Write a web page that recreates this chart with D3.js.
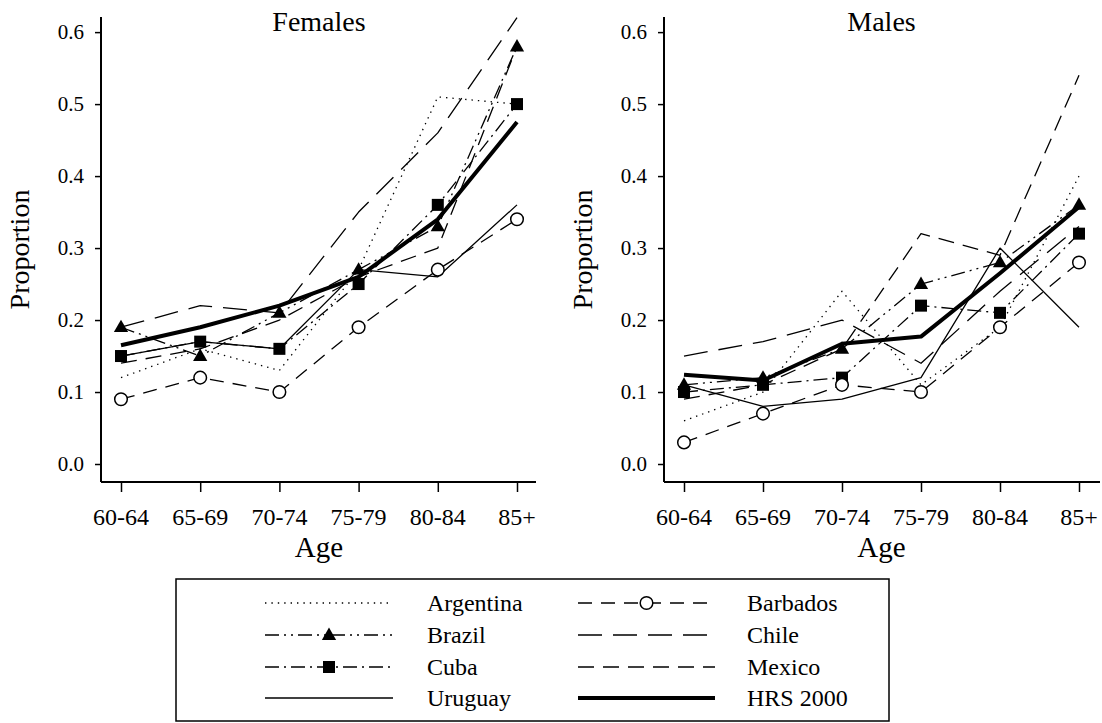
<!DOCTYPE html>
<html>
<head>
<meta charset="utf-8">
<script src="https://cdn.jsdelivr.net/npm/d3@7"></script>
</head>
<body style="margin:0">
<svg id="chart" width="1102" height="723"></svg>
<script>
// Age groups and axis ticks
const ageGroups = ["60-64", "65-69", "70-74", "75-79", "80-84", "85+"];
const yTicks = [0, 0.1, 0.2, 0.3, 0.4, 0.5, 0.6];
const countries = ["Argentina", "Brazil", "Cuba", "Uruguay", "Barbados", "Chile", "Mexico", "HRS 2000"];

// Proportions by age group, females
const argentinaF = [0.12, 0.16, 0.13, 0.27, 0.51, 0.50];
const brazilF    = [0.19, 0.15, 0.21, 0.27, 0.33, 0.58];
const cubaF      = [0.15, 0.17, 0.16, 0.25, 0.36, 0.50];
const uruguayF   = [0.15, 0.17, 0.16, 0.27, 0.26, 0.36];
const barbadosF  = [0.09, 0.12, 0.10, 0.19, 0.27, 0.34];
const chileF     = [0.19, 0.22, 0.21, 0.35, 0.46, 0.62];
const mexicoF    = [0.14, 0.16, 0.20, 0.26, 0.30, 0.58];
const hrsF       = [0.165, 0.19, 0.22, 0.26, 0.34, 0.475];

// Proportions by age group, males
const argentinaM = [0.06, 0.10, 0.24, 0.11, 0.19, 0.40];
const brazilM    = [0.11, 0.12, 0.16, 0.25, 0.28, 0.36];
const cubaM      = [0.10, 0.11, 0.12, 0.22, 0.21, 0.32];
const uruguayM   = [0.11, 0.08, 0.09, 0.12, 0.30, 0.19];
const barbadosM  = [0.03, 0.07, 0.11, 0.10, 0.19, 0.28];
const chileM     = [0.15, 0.17, 0.20, 0.14, 0.24, 0.33];
const mexicoM    = [0.09, 0.11, 0.16, 0.32, 0.29, 0.54];
const hrsM       = [0.124, 0.116, 0.167, 0.177, 0.265, 0.357];

// Line style per country
const styles = {
  "Argentina": { dash: "1.4,5",            width: 1.3, marker: null },
  "Brazil":    { dash: "14,5,2,5,2,5",     width: 1.3, marker: "triangle" },
  "Cuba":      { dash: "14,5,2,5",         width: 1.3, marker: "square" },
  "Uruguay":   { dash: null,               width: 1.3, marker: null },
  "Barbados":  { dash: "14,9",             width: 1.3, marker: "circle" },
  "Chile":     { dash: "24,11",            width: 1.3, marker: null },
  "Mexico":    { dash: "16,9",             width: 1.3, marker: null },
  "HRS 2000":  { dash: null,               width: 4,   marker: null }
};

const femalesSeries = [argentinaF, brazilF, cubaF, uruguayF, barbadosF, chileF, mexicoF, hrsF];
const malesSeries   = [argentinaM, brazilM, cubaM, uruguayM, barbadosM, chileM, mexicoM, hrsM];

const FONT = "Liberation Serif";
const svg = d3.select("#chart");

const panels = [
  { title: "Females", series: femalesSeries, axisLeft: 101, axisRight: 536, first: 121, last: 517 },
  { title: "Males",   series: malesSeries,   axisLeft: 664, axisRight: 1100, first: 684, last: 1079 }
];

const plotTop = 17, plotBottom = 482;
const y = d3.scaleLinear().domain([-0.025, 0.621]).range([plotBottom, plotTop]);

function drawMarker(g, type, cx, cy) {
  if (type === "triangle") {
    const s = 7.5;
    g.append("path")
      .attr("d", `M${cx},${cy - s}L${cx + s * 0.95},${cy + s * 0.65}L${cx - s * 0.95},${cy + s * 0.65}Z`)
      .attr("fill", "#000");
  } else if (type === "square") {
    g.append("rect")
      .attr("x", cx - 6).attr("y", cy - 6).attr("width", 12).attr("height", 12)
      .attr("fill", "#000");
  } else if (type === "circle") {
    g.append("circle")
      .attr("cx", cx).attr("cy", cy).attr("r", 6.3)
      .attr("fill", "#fff").attr("stroke", "#000").attr("stroke-width", 1.5);
  }
}

// All text goes straight onto the root svg in the serif face
function label(x, y, txt, size, anchor) {
  return svg.append("text").attr("x", x).attr("y", y)
    .style("font-family", FONT)
    .style("font-size", size + "px")
    .attr("text-anchor", anchor || "start")
    .text(txt);
}

panels.forEach(p => {
  const x = d3.scalePoint().domain(ageGroups).range([p.first, p.last]);
  const g = svg.append("g");

  // y axis: tick marks from the scale; labels placed from the same scale
  const yAxis = g.append("g")
    .attr("transform", `translate(${p.axisLeft},0)`)
    .call(d3.axisLeft(y).tickValues(yTicks).tickFormat("").tickSize(6).tickSizeOuter(0));
  yAxis.select(".domain").remove();
  yAxis.append("line").attr("x1", 0).attr("x2", 0).attr("y1", plotTop).attr("y2", plotBottom)
    .attr("stroke", "#000").attr("stroke-width", 2);
  yAxis.selectAll(".tick line").attr("stroke-width", 1.5);
  yTicks.forEach(t => label(p.axisLeft - 17, y(t) + 7, d3.format(".1f")(t), 21, "end"));

  // x axis
  const xAxis = g.append("g")
    .attr("transform", `translate(0,${plotBottom})`)
    .call(d3.axisBottom(x).tickFormat("").tickSize(10).tickSizeOuter(0));
  xAxis.select(".domain").remove();
  xAxis.append("line").attr("x1", p.axisLeft).attr("x2", p.axisRight).attr("y1", 0).attr("y2", 0)
    .attr("stroke", "#000").attr("stroke-width", 2);
  xAxis.selectAll(".tick line").attr("stroke-width", 1.5);
  ageGroups.forEach(a => label(x(a), 525, a, 24, "middle"));

  const cx = (p.first + p.last) / 2;
  label(cx, 31, p.title, 28, "middle");
  label(cx, 557, "Age", 29, "middle");
  label(0, 0, "Proportion", 28, "middle")
    .attr("transform", `translate(${p.axisLeft - 72},${(plotTop + plotBottom) / 2}) rotate(-90)`);

  const line = d3.line().x((d, i) => x(ageGroups[i])).y(d => y(d));
  const lines = g.append("g");
  const marks = g.append("g");
  countries.forEach((c, k) => {
    const st = styles[c];
    const vals = p.series[k];
    lines.append("path")
      .datum(vals)
      .attr("d", line)
      .attr("fill", "none")
      .attr("stroke", "#000")
      .attr("stroke-width", st.width)
      .attr("stroke-linejoin", "round")
      .attr("stroke-dasharray", st.dash);
    if (st.marker) {
      vals.forEach((v, i) => drawMarker(marks, st.marker, x(ageGroups[i]), y(v)));
    }
  });
});

// Legend
const legend = svg.append("g");
legend.append("rect").attr("x", 176).attr("y", 579).attr("width", 713).attr("height", 142)
  .attr("fill", "#fff").attr("stroke", "#000").attr("stroke-width", 1.5);
const rowY = [603, 635, 667, 698];
const colDefs = [
  { x1: 265, x2: 393, tx: 427 },
  { x1: 578, x2: 715, tx: 747 }
];
countries.forEach((c, k) => {
  const col = colDefs[Math.floor(k / 4)];
  const yy = rowY[k % 4];
  const st = styles[c];
  legend.append("line")
    .attr("x1", col.x1).attr("x2", col.x2).attr("y1", yy).attr("y2", yy)
    .attr("stroke", "#000").attr("stroke-width", st.width)
    .attr("stroke-dasharray", st.dash);
  if (st.marker) drawMarker(legend, st.marker, (col.x1 + col.x2) / 2, yy);
  label(col.tx, yy + 8, c, 24);
});
</script>
</body>
</html>
